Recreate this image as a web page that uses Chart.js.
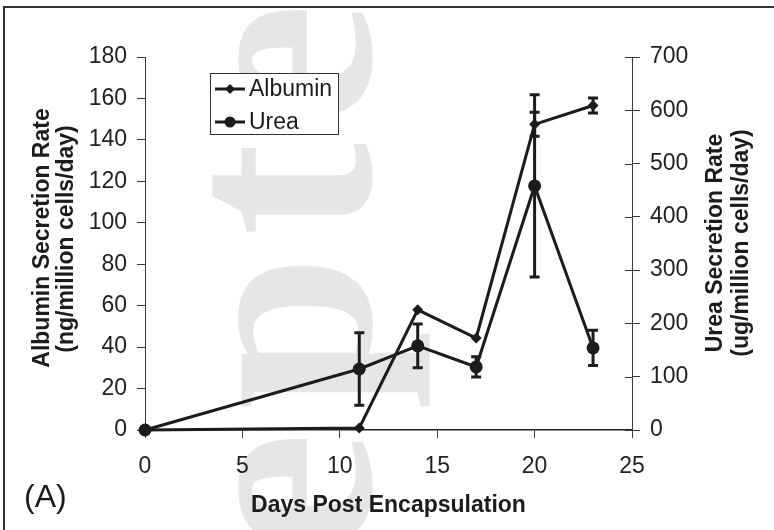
<!DOCTYPE html>
<html>
<head>
<meta charset="utf-8">
<script src="https://cdn.jsdelivr.net/npm/chart.js@4.4.1/dist/chart.umd.min.js"></script>
<style>
  html, body { margin: 0; padding: 0; background: #fff; }
  canvas { display: block; }
</style>
</head>
<body>
<canvas id="chart" width="774" height="530"></canvas>
<script>
// Values
const days = [0, 11, 14, 17, 20, 23];
const albumin = [0, 1, 58, 44.4, 147.5, 156.6];        // ng/million cells/day (left axis)
const albuminErr = [0, 0, 0, 0, 5.8, 3.6];
const urea = [0, 114.5, 158, 118.3, 458, 154];          // ug/million cells/day (right axis)
const ureaErr = [0, 68, 41, 19, 171, 33];
const xTicks = [0, 5, 10, 15, 20, 25];
const leftTicks = [0, 20, 40, 60, 80, 100, 120, 140, 160, 180];
const rightTicks = [0, 100, 200, 300, 400, 500, 600, 700];

const INK = '#1c1c1c';
const AXIS = '#3a3a3a';
const SANS = '"Liberation Sans", Arial, Helvetica, sans-serif';
const tickFont = { family: SANS, size: 23 };

// light "Accepted" watermark behind the plot
function drawWatermark(ctx) {
    const letters = [['e', 556], ['p', 410], ['t', 236], ['e', 127]];
    ctx.save();
    ctx.fillStyle = '#e5e6e8';
    ctx.font = 'bold 280px "Liberation Serif", "Times New Roman", serif';
    ctx.textBaseline = 'alphabetic';
    ctx.textAlign = 'left';
    letters.forEach(([ch, y]) => {
        ctx.save();
        ctx.translate(370, y);
        ctx.rotate(-Math.PI / 2);
        ctx.fillText(ch, 0, 0);
        ctx.restore();
    });
    ctx.restore();
}

function rotatedText(ctx, text, x, y, font) {
    ctx.save();
    ctx.translate(x, y);
    ctx.rotate(-Math.PI / 2);
    ctx.font = font;
    ctx.textAlign = 'center';
    ctx.textBaseline = 'alphabetic';
    ctx.fillText(text, 0, 0);
    ctx.restore();
}

function drawMarker(ctx, style, x, y, r) {
    ctx.beginPath();
    if (style === 'rectRot') {
        ctx.moveTo(x, y - r); ctx.lineTo(x + r, y); ctx.lineTo(x, y + r); ctx.lineTo(x - r, y);
        ctx.closePath();
    } else {
        ctx.arc(x, y, r, 0, Math.PI * 2);
    }
    ctx.fill();
}

const figurePlugin = {
    id: 'figure',
    beforeDraw(chart) {
        const ctx = chart.ctx;
        drawWatermark(ctx);
        // outer frame of the figure panel
        ctx.save();
        ctx.strokeStyle = '#333';
        ctx.lineWidth = 2;
        ctx.strokeRect(4, 7, 900, 700);
        ctx.restore();
    },
    beforeDatasetsDraw(chart) {
        // error bars, through the library's scales
        const ctx = chart.ctx;
        const sets = [
            { vals: albumin, err: albuminErr, scale: chart.scales.y },
            { vals: urea, err: ureaErr, scale: chart.scales.y1 },
        ];
        const xs = chart.scales.x;
        ctx.save();
        ctx.strokeStyle = INK;
        ctx.lineWidth = 3;
        sets.forEach(s => {
            s.vals.forEach((v, i) => {
                const e = s.err[i];
                if (!e) return;
                const px = xs.getPixelForValue(days[i]);
                const top = s.scale.getPixelForValue(v + e);
                const bot = s.scale.getPixelForValue(v - e);
                ctx.beginPath();
                ctx.moveTo(px, top); ctx.lineTo(px, bot);
                ctx.moveTo(px - 5, top); ctx.lineTo(px + 5, top);
                ctx.moveTo(px - 5, bot); ctx.lineTo(px + 5, bot);
                ctx.stroke();
            });
        });
        ctx.restore();
    },
    afterDraw(chart) {
        const ctx = chart.ctx;
        const area = chart.chartArea;
        const y1 = chart.scales.y1;
        ctx.save();
        // right axis ticks cross the axis line
        ctx.strokeStyle = AXIS;
        ctx.lineWidth = 1;
        rightTicks.forEach(t => {
            const py = Math.round(y1.getPixelForValue(t)) + 0.5;
            ctx.beginPath();
            ctx.moveTo(area.right - 7, py); ctx.lineTo(area.right, py);
            ctx.stroke();
        });

        // axis titles
        ctx.fillStyle = INK;
        const bold = 'bold 23px ' + SANS;
        rotatedText(ctx, 'Albumin Secretion Rate', 49, 238, bold);
        rotatedText(ctx, '(ng/million cells/day)', 73, 239, bold);
        rotatedText(ctx, 'Urea Secretion Rate', 722, 243, bold);
        rotatedText(ctx, '(ug/million cells/day)', 748, 243, bold);
        ctx.font = bold;
        ctx.textAlign = 'center';
        ctx.textBaseline = 'alphabetic';
        ctx.fillText('Days Post Encapsulation', (area.left + area.right) / 2, 512);

        // panel label
        ctx.font = '32px ' + SANS;
        ctx.textAlign = 'left';
        ctx.fillText('(A)', 24, 507);

        // legend box
        const bx = 210, by = 73, bw = 128, bh = 61;
        ctx.fillStyle = '#fff';
        ctx.fillRect(bx, by, bw, bh);
        ctx.strokeStyle = '#333';
        ctx.lineWidth = 1;
        ctx.strokeRect(bx + 0.5, by + 0.5, bw, bh);
        chart.data.datasets.forEach((ds, i) => {
            const ry = by + 16 + i * 33;
            ctx.strokeStyle = INK;
            ctx.fillStyle = INK;
            ctx.lineWidth = 3;
            ctx.beginPath();
            ctx.moveTo(bx + 5, ry); ctx.lineTo(bx + 35, ry);
            ctx.stroke();
            drawMarker(ctx, ds.pointStyle, bx + 20, ry, ds.pointStyle === 'circle' ? 5.5 : 5);
            ctx.font = '23px ' + SANS;
            ctx.textBaseline = 'middle';
            ctx.textAlign = 'left';
            ctx.fillText(ds.label, bx + 39, ry + 1);
        });
        ctx.restore();
    },
};

new Chart(document.getElementById('chart'), {
    type: 'line',
    data: {
        datasets: [
            {
                label: 'Albumin',
                data: days.map((d, i) => ({ x: d, y: albumin[i] })),
                yAxisID: 'y',
                borderColor: INK, backgroundColor: INK,
                borderWidth: 3, tension: 0, clip: false,
                pointStyle: 'rectRot', pointRadius: 5.5, pointBorderWidth: 0,
            },
            {
                label: 'Urea',
                data: days.map((d, i) => ({ x: d, y: urea[i] })),
                yAxisID: 'y1',
                borderColor: INK, backgroundColor: INK,
                borderWidth: 3, tension: 0, clip: false,
                pointStyle: 'circle', pointRadius: 6.5, pointBorderWidth: 0,
            },
        ],
    },
    options: {
        responsive: false, animation: false,
        layout: { padding: { top: 57, left: 0, right: 0, bottom: 0 } },
        plugins: { legend: { display: false }, tooltip: { enabled: false } },
        scales: {
            x: {
                type: 'linear', min: 0, max: 25,
                afterBuildTicks: s => { s.ticks = xTicks.map(v => ({ value: v })); },
                ticks: { font: tickFont, color: '#222', padding: 15, maxRotation: 0 },
                grid: { drawOnChartArea: false, tickLength: 8, color: AXIS },
                border: { color: '#222', width: 1.5 },
                afterFit: s => { s.height = 100; },
            },
            y: {
                position: 'left', min: 0, max: 180,
                afterBuildTicks: s => { s.ticks = leftTicks.map(v => ({ value: v })); },
                ticks: { font: tickFont, color: '#222', padding: 10 },
                grid: { drawOnChartArea: false, tickLength: 8, color: AXIS },
                border: { color: AXIS, width: 1 },
                afterFit: s => { s.width = 145; },
            },
            y1: {
                position: 'right', min: 0, max: 700,
                afterBuildTicks: s => { s.ticks = rightTicks.map(v => ({ value: v })); },
                ticks: { font: tickFont, color: '#222', padding: 10 },
                grid: { drawOnChartArea: false, tickLength: 8, color: AXIS },
                border: { color: AXIS, width: 1 },
                afterFit: s => { s.width = 142; },
            },
        },
    },
    plugins: [figurePlugin],
});
</script>
</body>
</html>
